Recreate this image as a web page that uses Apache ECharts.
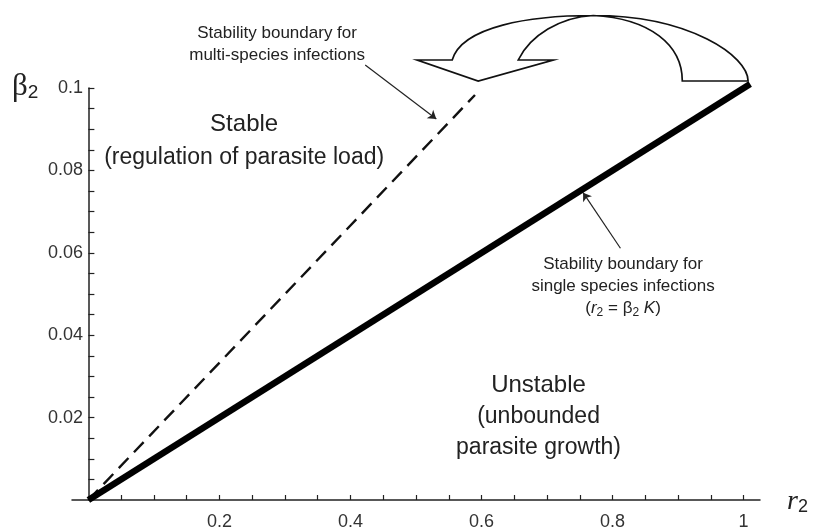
<!DOCTYPE html>
<html><head><meta charset="utf-8">
<script src="https://cdn.jsdelivr.net/npm/echarts@6/dist/echarts.min.js"></script>
<style>html,body{margin:0;padding:0;background:#fff}#c{width:813px;height:531px}</style>
</head><body><div id="c"></div>
<script>
// ---- data ----
const xTicks = [0.05,0.1,0.15,0.2,0.25,0.3,0.35,0.4,0.45,0.5,0.55,0.6,0.65,0.7,0.75,0.8,0.85,0.9,0.95,1.0];
const xTickLabels = [0.2,0.4,0.6,0.8,1];
const yTicks = [0.005,0.01,0.015,0.02,0.025,0.03,0.035,0.04,0.045,0.05,0.055,0.06,0.065,0.07,0.075,0.08,0.085,0.09,0.095,0.1];
const yTickLabels = [0.02,0.04,0.06,0.08,0.1];
const singleBoundary = [[0,0],[1.01,0.101]];
const multiBoundary = [[0,0],[0.59,0.0983]];
const multiArrow = [[0.4225,0.1056],[0.531,0.0925]];
const singleArrow = [[0.812,0.0611],[0.755,0.0746]];
// curved block arrow outline (data units)
const bigArrow = {
  outerBaseR:[1.0068,0.1017], innerBaseR:[0.9064,0.1017],
  c1:[0.9064,0.1104], c2:[0.8575,0.1169], top:[0.7705,0.1176],
  c3:[0.7202,0.1172], c4:[0.6744,0.1128], innerLeftEnd:[0.6560,0.1068],
  wingR:[0.7094,0.1068], tip:[0.5950,0.1017], wingL:[0.5018,0.1068],
  outerLeftEnd:[0.5553,0.1068], c5:[0.5700,0.1150], c6:[0.6744,0.1176],
  c7:[0.9186,0.1176], c8:[1.0068,0.1077]
};
const labelStable = [0.2377,0.0871];
const labelUnstable = [0.687,0.0202];
const labelMulti = [0.288,0.1106];
const labelSingle = [0.816,0.0519];

const sans = '"Liberation Sans", Arial, Helvetica, sans-serif';
const serif = '"Liberation Serif", "Times New Roman", serif';
const chart = echarts.init(document.getElementById('c'));
chart.setOption({
  animation: false,
  grid: {left: 72, right: 53, top: 88, bottom: 29.3},
  xAxis: {
    type: 'value', min: -0.025, max: 1.025,
    axisLine: {onZero: true, lineStyle: {color: '#222', width: 1.5}},
    axisTick: {show: true, inside: true, length: 5, customValues: xTicks, lineStyle: {color: '#222', width: 1.2}},
    axisLabel: {customValues: xTickLabels, margin: 13, fontSize: 18, color: '#333', fontFamily: sans},
    splitLine: {show: false}
  },
  yAxis: {
    type: 'value', min: 0, max: 0.1,
    axisLine: {show: true, onZero: true, lineStyle: {color: '#222', width: 1.5}},
    axisTick: {show: true, inside: true, length: 6, customValues: yTicks, lineStyle: {color: '#222', width: 1.2}},
    axisLabel: {customValues: yTickLabels, margin: -11, fontSize: 18, color: '#333', fontFamily: sans},
    splitLine: {show: false}
  },
  series: [
    {type: 'line', data: multiBoundary, symbol: 'none', clip: false,
     lineStyle: {color: '#111', width: 2.4, type: [14, 8]}},
    {type: 'line', data: singleBoundary, symbol: 'none', clip: false,
     lineStyle: {color: '#000', width: 6.5, cap: 'butt'}},
    {type: 'lines', coordinateSystem: 'cartesian2d', clip: false,
     symbol: ['none', 'arrow'], symbolSize: 8,
     lineStyle: {color: '#222', width: 1.2, opacity: 1},
     data: [{coords: multiArrow}, {coords: singleArrow}]},
    {type: 'custom', clip: false, data: [[0, 0]],
     renderItem: function (params, api) {
       const p = {};
       for (const k in bigArrow) p[k] = api.coord(bigArrow[k]);
       const f = a => a[0].toFixed(1) + ' ' + a[1].toFixed(1);
       const d = 'M' + f(p.outerBaseR) + ' L' + f(p.innerBaseR) +
         ' C' + f(p.c1) + ' ' + f(p.c2) + ' ' + f(p.top) +
         ' C' + f(p.c3) + ' ' + f(p.c4) + ' ' + f(p.innerLeftEnd) +
         ' L' + f(p.wingR) + ' L' + f(p.tip) + ' L' + f(p.wingL) + ' L' + f(p.outerLeftEnd) +
         ' C' + f(p.c5) + ' ' + f(p.c6) + ' ' + f(p.top) +
         ' C' + f(p.c7) + ' ' + f(p.c8) + ' ' + f(p.outerBaseR) + ' Z';
       return {type: 'path', shape: {pathData: d},
               style: {fill: '#fff', stroke: '#111', lineWidth: 1.7, lineJoin: 'miter'}};
     }}
  ]
});

function px(pt) { return chart.convertToPixel({gridIndex: 0}, pt); }
const ps = px(labelStable), pu = px(labelUnstable), pm = px(labelMulti), pg = px(labelSingle);
const txtBase = {fontFamily: sans, fill: '#222', align: 'center', verticalAlign: 'middle'};
chart.setOption({
  graphic: [
    {type: 'text', x: ps[0], y: ps[1], style: Object.assign({}, txtBase, {
      text: '{a|Stable}\n{b|(regulation of parasite load)}',
      rich: {a: {fontSize: 24, lineHeight: 33, fontFamily: sans, fill: '#222'},
             b: {fontSize: 23, lineHeight: 33, fontFamily: sans, fill: '#222'}}})},
    {type: 'text', x: pu[0], y: pu[1], style: Object.assign({}, txtBase, {
      text: '{a|Unstable}\n{b|(unbounded}\n{b|parasite growth)}',
      rich: {a: {fontSize: 24, lineHeight: 31, fontFamily: sans, fill: '#222'},
             b: {fontSize: 23, lineHeight: 31, fontFamily: sans, fill: '#222'}}})},
    {type: 'text', x: pm[0], y: pm[1], style: Object.assign({}, txtBase, {
      text: '{a|Stability boundary for}\n{a|multi-species infections}',
      rich: {a: {fontSize: 17, lineHeight: 22, fontFamily: sans, fill: '#222'}}})},
    {type: 'text', x: pg[0], y: pg[1], style: Object.assign({}, txtBase, {
      text: '{a|Stability boundary for}\n{a|single species infections}\n{a|(}{i|r}{s|2}{a| = β}{s|2}{a| }{i|K}{a|)}',
      rich: {a: {fontSize: 17, lineHeight: 22, fontFamily: sans, fill: '#222'},
             i: {fontSize: 17, lineHeight: 22, fontStyle: 'italic', fontFamily: sans, fill: '#222'},
             s: {fontSize: 12, lineHeight: 14, fontFamily: sans, fill: '#222', verticalAlign: 'bottom', padding: [6, 0, 0, 0]}}})},
    {type: 'text', left: 12, top: 71, style: {
      text: '{b|β}{s|2}',
      rich: {b: {fontSize: 31, fontFamily: serif, fill: '#222', lineHeight: 30, verticalAlign: 'bottom'},
             s: {fontSize: 19, fontFamily: sans, fill: '#222', lineHeight: 15, verticalAlign: 'bottom'}}}},
    {type: 'text', left: 787, top: 488, style: {
      text: '{r|r}{s|2}',
      rich: {r: {fontSize: 28, fontStyle: 'italic', fontFamily: serif, fill: '#222', lineHeight: 28, verticalAlign: 'bottom'},
             s: {fontSize: 18, fontFamily: sans, fill: '#222', lineHeight: 16, verticalAlign: 'bottom'}}}}
  ]
});
</script></body></html>
